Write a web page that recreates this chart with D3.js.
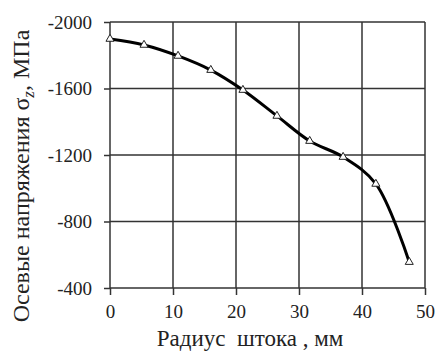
<!DOCTYPE html>
<html>
<head>
<meta charset="utf-8">
<script src="https://cdn.jsdelivr.net/npm/d3@7"></script>
<style>
  body { margin: 0; background: #fff; }
  svg { display: block; }
  svg text { font-family: "Liberation Serif", "DejaVu Serif", serif !important; fill: #222; }
  .tick text { font-size: 19px; }
</style>
</head>
<body>
<svg width="435" height="351"></svg>
<script>
// radius, mm
const radius = [0, 5.4, 10.8, 16.0, 21.1, 26.5, 31.7, 37.0, 42.2, 47.5];
// axial stress, MPa
const stress = [-1898, -1862, -1796, -1711, -1591, -1435, -1284, -1188, -1026, -556];
const xTicks = [0, 10, 20, 30, 40, 50];
const yTicks = [-2000, -1600, -1200, -800, -400];

const width = 435, height = 351;
const margin = { left: 110, right: 10, top: 22, bottom: 63 };
const innerWidth = width - margin.left - margin.right;
const innerHeight = height - margin.top - margin.bottom;

const svg = d3.select('svg');

const x = d3.scaleLinear().domain([0, 50]).range([0, innerWidth]);
const y = d3.scaleLinear().domain([-2000, -400]).range([0, innerHeight]);

const chart = svg.append('g').attr('transform', `translate(${margin.left},${margin.top})`);

// grid
chart.append('g')
  .selectAll('line')
  .data(xTicks)
  .join('line')
  .attr('x1', d => x(d)).attr('x2', d => x(d))
  .attr('y1', 0).attr('y2', innerHeight)
  .style('stroke', '#333').style('stroke-width', 1.5);
chart.append('g')
  .selectAll('line')
  .data(yTicks)
  .join('line')
  .attr('x1', 0).attr('x2', innerWidth)
  .attr('y1', d => y(d)).attr('y2', d => y(d))
  .style('stroke', '#333').style('stroke-width', 1.5);

const xAxis = d3.axisBottom(x).tickValues(xTicks).tickSize(7).tickPadding(10).tickFormat(d3.format('d'));
const yAxis = d3.axisLeft(y).tickValues(yTicks).tickSize(6).tickPadding(12).tickFormat(d => d);

const gx = chart.append('g').attr('transform', `translate(0,${innerHeight})`).call(xAxis);
const gy = chart.append('g').call(yAxis);
[gx, gy].forEach(g => {
  g.attr('font-family', null).attr('font-size', null);
  g.select('.domain').remove();
  g.selectAll('.tick line').style('stroke', '#333').style('stroke-width', 1.5);
});

// curve
const pts = radius.map((r, i) => [r, stress[i]]);
chart.append('path')
  .datum(pts)
  .attr('d', d3.line().x(d => x(d[0])).y(d => y(d[1])).curve(d3.curveCatmullRom.alpha(0.5)))
  .style('fill', 'none').style('stroke', '#000').style('stroke-width', 3);

// triangle markers
const tri = d3.symbol().type(d3.symbolTriangle).size(28);
chart.selectAll('path.marker')
  .data(pts)
  .join('path')
  .attr('class', 'marker')
  .attr('transform', d => `translate(${x(d[0])},${y(d[1])})`)
  .attr('d', tri)
  .style('fill', '#fff').style('stroke', '#222').style('stroke-width', 1);

// axis titles
svg.append('text')
  .attr('x', 250).attr('y', 346)
  .attr('text-anchor', 'middle')
  .style('font-size', '23px')
  .style('white-space', 'pre')
  .text('Радиус  штока , мм');

const yl = svg.append('text')
  .attr('transform', 'translate(29,176) rotate(-90)')
  .attr('text-anchor', 'middle')
  .style('font-size', '24px');
yl.append('tspan').text('Осевые напряжения σ');
yl.append('tspan').attr('dy', 5).style('font-style', 'italic').style('font-size', '17px').text('z');
yl.append('tspan').attr('dy', -5).text(', МПа');
</script>
</body>
</html>
